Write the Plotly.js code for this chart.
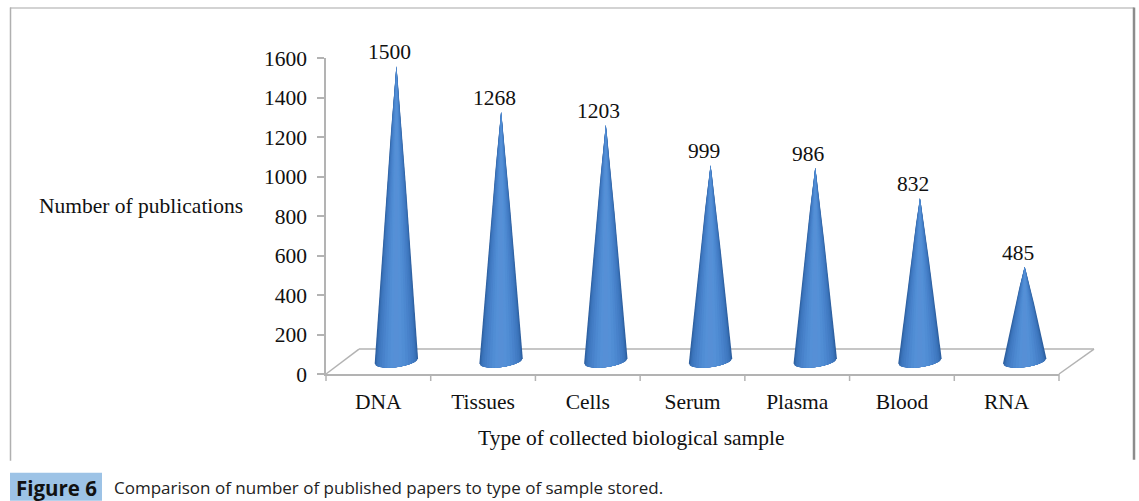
<!DOCTYPE html>
<html>
<head>
<meta charset="utf-8">
<script src="https://cdn.plot.ly/plotly-3.0.1.min.js"></script>
<style>html,body{margin:0;padding:0;background:#fff}#chart{width:1139px;height:501px}</style>
</head>
<body>
<div id="chart"></div>
<script>
const categories = ["DNA", "Tissues", "Cells", "Serum", "Plasma", "Blood", "RNA"];
const publications = [1500, 1268, 1203, 999, 986, 832, 485];
const yTicks = [0, 200, 400, 600, 800, 1000, 1200, 1400, 1600];
const xTitle = "Type of collected biological sample";
const yTitle = "Number of publications";
const figureTag = "Figure 6";
const caption = "Comparison of number of published papers to type of sample stored.";

const W = 1139, H = 501;
const L = 326, R = 1059, T = 57.5, B = 374;
const px = x => (x - L) / (R - L);
const py = y => (B - y) / (B - T);
const serif = "Liberation Serif, Times New Roman, serif";
const sans = "Open Sans, Noto Sans, sans-serif";
const GREY = "#b3b3b3";
const INK = "#111111";

// nested fills give the cones their horizontal shading
const shades = ["#2d5f9f", "#3469ad", "#3a73b9", "#3f78c0", "#437dc5", "#4882cb", "#4c88d0", "#508dd4", "#5490d7", "#568fd6"];
const widths = [1, 0.96, 0.91, 0.85, 0.77, 0.67, 0.55, 0.42, 0.28, 0.14];
const HALF = 0.207, STEPS = 24;
const LEFT_EDGE = -5, RIGHT_EDGE = 22, SAG = 32;

// lower rim of a cone, relative offset u in [-1, 1]
const rim = u => LEFT_EDGE + (RIGHT_EDGE - LEFT_EDGE) * (u + 1) / 2 - SAG * Math.sqrt(Math.max(0, 1 - u * u));

function coneTrace(i, v, shade, f) {
  const xs = [], ys = [];
  const yl = rim(-f), yr = rim(f);
  for (let k = 0; k <= STEPS; k++) {
    const t = k / STEPS;
    xs.push(i - HALF * f * Math.pow(1 - t, 0.92));
    ys.push(yl + (v - yl) * t);
  }
  for (let k = STEPS; k >= 0; k--) {
    const t = k / STEPS;
    xs.push(i + HALF * f * Math.pow(1 - t, 0.92));
    ys.push(yr + (v - yr) * t);
  }
  for (let k = 1; k < STEPS; k++) {
    const u = f * (1 - 2 * k / STEPS);
    xs.push(i + HALF * u);
    ys.push(rim(u));
  }
  return {
    type: "scatter", mode: "lines", x: xs, y: ys, xaxis: "x2", yaxis: "y2",
    fill: "toself", fillcolor: shade, line: {width: 0, color: shade},
    hoverinfo: "skip", showlegend: false
  };
}

const traces = [{
  type: "scatter", mode: "markers", x: categories, y: publications,
  marker: {opacity: 0, size: 1}, hoverinfo: "skip", showlegend: false
}];
publications.forEach((v, i) => {
  shades.forEach((s, j) => traces.push(coneTrace(i, v, s, widths[j])));
});

const line = (x0, y0, x1, y1, c, w) => ({
  type: "line", xref: "paper", yref: "paper", x0: px(x0), y0: py(y0), x1: px(x1), y1: py(y1),
  line: {color: c || GREY, width: w || 1.5}, layer: "below"
});

const layout = {
  width: W, height: H,
  margin: {l: L, r: W - R, t: T, b: H - B, pad: 0},
  paper_bgcolor: "#ffffff", plot_bgcolor: "rgba(0,0,0,0)",
  showlegend: false,
  xaxis: {
    type: "category", categoryorder: "array", categoryarray: categories, range: [-0.5, 6.5],
    showgrid: false, zeroline: false, showline: true, linecolor: GREY, linewidth: 1.5,
    ticks: "", ticklabelstandoff: 7, tickfont: {family: serif, size: 21.5, color: INK}
  },
  xaxis2: {overlaying: "x", range: [-0.672, 6.328], visible: false, fixedrange: true},
  yaxis: {
    range: [0, 1600], tickvals: yTicks, ticktext: yTicks.map(String),
    showgrid: false, zeroline: false, showline: true, linecolor: GREY, linewidth: 1.5,
    ticks: "outside", ticklen: 7, tickwidth: 1.5, tickcolor: GREY, ticklabelstandoff: 6,
    tickfont: {family: serif, size: 21.5, color: INK}, automargin: false
  },
  yaxis2: {overlaying: "y", range: [-58, 1542], visible: false, fixedrange: true},
  shapes: [
    line(326, 374, 359, 349),
    line(359, 349, 1094, 349),
    line(1094, 349, 1059, 374),
    ...[0, 1, 2, 3, 4, 5, 6, 7].map(k => line(326 + k * (733 / 7), 374, 326 + k * (733 / 7), 381)),
    line(10, 7.5, 1134, 7.5, "#c4c4c4", 1.5),
    line(10.5, 7, 10.5, 461, "#b0b0b0", 1.5),
    line(1134, 7, 1134, 460, "#8c8c8c", 2.5),
    {type: "rect", xref: "paper", yref: "paper", x0: px(10), x1: px(102), y0: py(473), y1: py(501),
     fillcolor: "#9dc3e6", line: {width: 0}, layer: "below"}
  ],
  annotations: [
    ...publications.map((v, i) => ({
      x: i, y: v, xref: "x2", yref: "y2", text: String(v), showarrow: false,
      xshift: -7, yshift: 0, yanchor: "bottom", xanchor: "center",
      font: {family: serif, size: 21.5, color: INK}
    })),
    {xref: "paper", yref: "paper", x: px(141), y: py(206), text: yTitle, showarrow: false,
     xanchor: "center", yanchor: "middle", font: {family: serif, size: 21.5, color: INK}},
    {xref: "paper", yref: "paper", x: px(631), y: py(438), text: xTitle, showarrow: false,
     xanchor: "center", yanchor: "middle", font: {family: serif, size: 21.5, color: INK}},
    {xref: "paper", yref: "paper", x: px(56), y: py(488), text: "<b>" + figureTag + "</b>", showarrow: false,
     xanchor: "center", yanchor: "middle", font: {family: sans, size: 20.5, color: INK}},
    {xref: "paper", yref: "paper", x: px(112), y: py(488), text: caption, showarrow: false,
     xanchor: "left", yanchor: "middle", font: {family: sans, size: 17, color: "#222222"}}
  ]
};

Plotly.newPlot("chart", traces, layout, {displayModeBar: false, responsive: false});
</script>
</body>
</html>
